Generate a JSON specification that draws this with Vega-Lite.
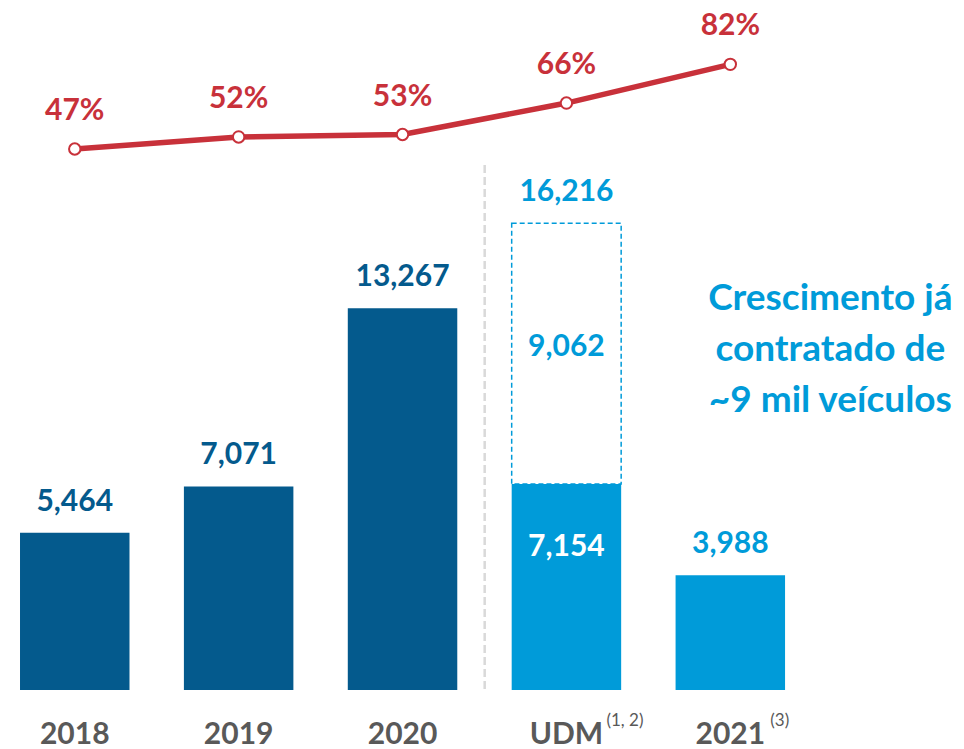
{
  "$schema": "https://vega.github.io/schema/vega-lite/v6.json",
  "width": 964,
  "height": 690,
  "autosize": {"type": "none"},
  "padding": {"left": 0, "right": 0, "top": 0, "bottom": 59},
  "background": "white",
  "config": {"view": {"stroke": null}, "font": "Lato"},
  "datasets": {
    "bars": [
      {"cat": "2018", "value": 5464, "label": "5,464", "grp": "hist"},
      {"cat": "2019", "value": 7071, "label": "7,071", "grp": "hist"},
      {"cat": "2020", "value": 13267, "label": "13,267", "grp": "hist"},
      {"cat": "UDM", "value": 7154, "label": "7,154", "grp": "new"},
      {"cat": "2021", "value": 3988, "label": "3,988", "grp": "new"}
    ],
    "contracted": [
      {"cat": "UDM", "base": 7154, "total": 16216, "added": 9062, "total_label": "16,216", "added_label": "9,062"}
    ],
    "share": [
      {"cat": "2018", "pct": 47, "label": "47%"},
      {"cat": "2019", "pct": 52, "label": "52%"},
      {"cat": "2020", "pct": 53, "label": "53%"},
      {"cat": "UDM", "pct": 66, "label": "66%"},
      {"cat": "2021", "pct": 82, "label": "82%"}
    ],
    "notes": [
      {"cat": "UDM", "note": "(1, 2)"},
      {"cat": "2021", "note": "(3)"}
    ],
    "message": [
      {"cat": "2021", "msg": "Crescimento já\ncontratado de\n~9 mil veículos"}
    ]
  },
  "encoding": {
    "x": {
      "field": "cat",
      "type": "ordinal",
      "scale": {
        "domain": ["2018", "2019", "2020", "UDM", "2021"],
        "paddingInner": 0.332,
        "paddingOuter": 0.607,
        "align": 0.1006
      },
      "axis": {
        "title": null,
        "domain": false,
        "ticks": false,
        "grid": false,
        "labelAngle": 0,
        "labelFont": "Lato",
        "labelFontSize": 30,
        "labelFontWeight": "bold",
        "labelColor": "#595959",
        "labelBaseline": "middle",
        "labelPadding": 44
      }
    }
  },
  "layer": [
    {
      "layer": [
        {
          "data": {"name": "bars"},
          "mark": {"type": "bar"},
          "encoding": {
            "y": {"field": "value", "type": "quantitative", "scale": {"domain": [0, 23975], "nice": false, "zero": true}, "axis": null},
            "color": {"field": "grp", "type": "nominal", "scale": {"domain": ["hist", "new"], "range": ["#045A8D", "#009BD9"]}, "legend": null}
          }
        },
        {
          "data": {"name": "contracted"},
          "mark": {"type": "bar", "fill": "white", "stroke": "#009BD9", "strokeWidth": 1.5, "strokeDash": [5, 3]},
          "encoding": {
            "y": {"field": "total", "type": "quantitative"},
            "y2": {"field": "base"}
          }
        },
        {
          "data": {"name": "bars"},
          "transform": [{"filter": "datum.cat != 'UDM'"}],
          "mark": {"type": "text", "fontSize": 30, "fontWeight": "bold", "baseline": "middle", "dy": -31},
          "encoding": {
            "y": {"field": "value", "type": "quantitative"},
            "text": {"field": "label"},
            "color": {"field": "grp", "type": "nominal", "legend": null}
          }
        },
        {
          "data": {"name": "bars"},
          "transform": [{"filter": "datum.cat == 'UDM'"}],
          "mark": {"type": "text", "fontSize": 30, "fontWeight": "bold", "baseline": "middle", "dy": 63, "color": "white"},
          "encoding": {
            "y": {"field": "value", "type": "quantitative"},
            "text": {"field": "label"}
          }
        },
        {
          "data": {"name": "contracted"},
          "mark": {"type": "text", "fontSize": 30, "fontWeight": "bold", "baseline": "middle", "dy": -31, "color": "#009BD9"},
          "encoding": {
            "y": {"field": "total", "type": "quantitative"},
            "text": {"field": "total_label"}
          }
        },
        {
          "data": {"name": "contracted"},
          "mark": {"type": "text", "fontSize": 30, "fontWeight": "bold", "baseline": "middle", "dy": 124, "color": "#009BD9"},
          "encoding": {
            "y": {"field": "total", "type": "quantitative"},
            "text": {"field": "added_label"}
          }
        },
        {
          "data": {"name": "contracted"},
          "mark": {"type": "rule", "color": "#D9D9D9", "strokeWidth": 2.5, "strokeDash": [8, 4], "xOffset": -27},
          "encoding": {
            "x": {"datum": "UDM", "type": "ordinal", "bandPosition": 0},
            "y": {"datum": 18240, "type": "quantitative"},
            "y2": {"datum": 0}
          }
        },
        {
          "data": {"name": "notes"},
          "mark": {"type": "text", "fontSize": 17, "align": "left", "baseline": "middle", "dx": 40, "dy": 31, "color": "#595959"},
          "encoding": {
            "y": {"datum": 0, "type": "quantitative"},
            "text": {"field": "note"}
          }
        },
        {
          "data": {"name": "message"},
          "mark": {"type": "text", "fontSize": 37, "fontWeight": "bold", "align": "center", "baseline": "middle", "dx": 100, "dy": -51, "lineBreak": "\n", "lineHeight": 51, "color": "#009BD9"},
          "encoding": {
            "y": {"datum": 11800, "type": "quantitative"},
            "text": {"field": "msg"}
          }
        }
      ]
    },
    {
      "data": {"name": "share"},
      "layer": [
        {
          "mark": {"type": "line", "color": "#C8313A", "strokeWidth": 5.5},
          "encoding": {
            "y": {"field": "pct", "type": "quantitative", "scale": {"domain": [-176.6, 108.6], "nice": false, "zero": false}, "axis": null}
          }
        },
        {
          "mark": {"type": "point", "shape": "circle", "filled": true, "fill": "white", "stroke": "#C8313A", "strokeWidth": 2, "size": 130, "opacity": 1},
          "encoding": {
            "y": {"field": "pct", "type": "quantitative"}
          }
        },
        {
          "mark": {"type": "text", "fontSize": 30, "fontWeight": "bold", "baseline": "middle", "dy": -38, "color": "#C8313A"},
          "encoding": {
            "y": {"field": "pct", "type": "quantitative"},
            "text": {"field": "label"}
          }
        }
      ]
    }
  ],
  "resolve": {"scale": {"y": "independent"}}
}
